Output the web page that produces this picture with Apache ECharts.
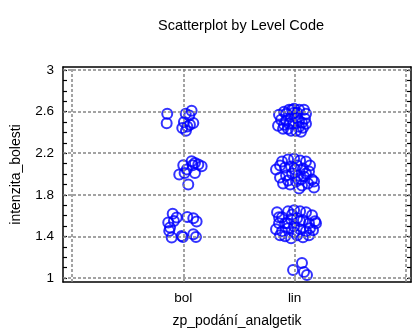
<!DOCTYPE html>
<html>
<head>
<meta charset="utf-8">
<script src="https://cdn.jsdelivr.net/npm/echarts@6/dist/echarts.min.js"></script>
<style>
  html, body { margin: 0; padding: 0; background: #fff; }
  #chart { width: 416px; height: 333px; }
</style>
</head>
<body>
<div id="chart"></div>
<script>
// Level codes on the x axis (position 1 = bol, 2 = lin)
const categories = ['bol', 'lin'];

// Jittered observations [x, intenzita_bolesti] for level "bol"
const bolPoints = [
  [0.856, 2.579], [0.851, 2.489], [1.022, 2.579], [1.075, 2.608], [1.054, 2.563],
  [1.090, 2.490], [1.060, 2.474], [0.991, 2.442], [1.024, 2.416], [1.036, 2.457],
  [1.006, 2.500],
  [1.075, 2.122], [1.105, 2.107], [1.135, 2.091], [1.165, 2.075], [1.000, 2.084],
  [1.084, 2.084], [1.031, 2.043], [0.964, 1.995], [1.012, 2.011], [1.105, 2.011],
  [1.045, 1.900],
  [0.905, 1.619], [0.941, 1.581], [1.036, 1.587], [1.090, 1.574], [1.120, 1.543],
  [0.865, 1.533], [0.916, 1.548], [0.881, 1.485], [0.874, 1.453], [0.896, 1.389],
  [0.986, 1.405], [0.997, 1.395], [1.090, 1.421], [1.114, 1.395]
];

// Jittered observations [x, intenzita_bolesti] for level "lin"
const linPoints = [
  [1.860, 2.569], [1.851, 2.464], [1.905, 2.598], [1.950, 2.617], [1.995, 2.627],
  [2.040, 2.617], [2.084, 2.617], [2.102, 2.579], [2.093, 2.531], [2.066, 2.493],
  [2.022, 2.541], [1.968, 2.550], [1.923, 2.512], [1.896, 2.435], [1.941, 2.435],
  [1.986, 2.483], [2.013, 2.416], [2.057, 2.407], [2.040, 2.455], [1.968, 2.416],
  [1.923, 2.579], [1.995, 2.589], [2.075, 2.445], [1.878, 2.522], [2.022, 2.589],
  [1.950, 2.483], [2.040, 2.512], [1.905, 2.474], [2.102, 2.483], [1.977, 2.617],
  [1.833, 2.043], [1.887, 2.120], [1.941, 2.139], [1.995, 2.148], [2.049, 2.129],
  [2.102, 2.120], [2.138, 2.081], [1.914, 2.062], [1.968, 2.072], [2.022, 2.081],
  [2.075, 2.053], [2.129, 2.024], [1.869, 1.967], [1.923, 1.986], [1.977, 2.005],
  [2.031, 1.986], [2.084, 1.976], [2.156, 1.947], [1.896, 1.909], [1.959, 1.900],
  [2.013, 1.928], [2.066, 1.890], [2.120, 1.909], [2.174, 1.871], [2.040, 1.861],
  [1.941, 1.938], [2.102, 2.005], [2.004, 2.043], [1.869, 2.081], [2.174, 1.928],
  [2.058, 1.947],
  [1.842, 1.632], [1.887, 1.584], [1.941, 1.641], [1.995, 1.651], [2.049, 1.641],
  [2.102, 1.632], [2.156, 1.603], [2.183, 1.545], [1.860, 1.526], [1.914, 1.526],
  [1.968, 1.565], [2.022, 1.574], [2.075, 1.555], [2.129, 1.526], [1.833, 1.469],
  [1.887, 1.450], [1.941, 1.478], [1.995, 1.498], [2.049, 1.469], [2.102, 1.450],
  [2.165, 1.459], [1.914, 1.402], [1.968, 1.383], [2.022, 1.411], [2.075, 1.392],
  [2.129, 1.411], [1.869, 1.411], [1.977, 1.612], [2.049, 1.545], [1.860, 1.584],
  [1.995, 1.440], [2.138, 1.478], [2.192, 1.526], [1.932, 1.526],
  [1.986, 1.077], [2.066, 1.144], [2.084, 1.057], [2.111, 1.029]
];

// Tick values
const yMajorTicks = [1, 1.4, 1.8, 2.2, 2.6, 3];
const yAllTicks = [1, 1.1, 1.2, 1.3, 1.4, 1.5, 1.6, 1.7, 1.8, 1.9, 2.0,
                   2.1, 2.2, 2.3, 2.4, 2.5, 2.6, 2.7, 2.8, 2.9, 3];
const xGridValues = [0, 1, 2, 3];
const xLabelValues = [1, 2];

const X_MIN = -0.08, X_MAX = 3.045;
const Y_MIN = 0.962, Y_MAX = 3.029;

const FONT = '"Liberation Sans", Arial, sans-serif';
const gridLine = { color: '#858585', width: 1.5, type: [3, 2] };
const frameLine = { color: '#000', width: 1.5 };
const tickStyle = { show: true, inside: true, length: 4, customValues: yAllTicks,
                    lineStyle: { color: '#000', width: 1.2 } };

const chart = echarts.init(document.getElementById('chart'), null, { renderer: 'canvas' });

chart.setOption({
  animation: false,
  title: {
    text: 'Scatterplot by Level Code',
    left: 236, top: 13, textAlign: 'center',
    textStyle: { fontFamily: FONT, fontSize: 14.5, fontWeight: 'normal', color: '#000' }
  },
  grid: { left: 63, right: 5, top: 67, bottom: 50, containLabel: false },
  xAxis: [
    {
      type: 'value', min: X_MIN, max: X_MAX, position: 'bottom',
      name: 'zp_podání_analgetik', nameLocation: 'middle', nameGap: 32,
      nameTextStyle: { fontFamily: FONT, fontSize: 14, color: '#000' },
      axisLine: { show: true, onZero: false, lineStyle: frameLine },
      axisTick: { show: false },
      axisLabel: {
        customValues: xLabelValues, margin: 9,
        formatter: (v) => categories[Math.round(v) - 1] || '',
        fontFamily: FONT, fontSize: 13.5, color: '#000'
      },
      splitLine: { show: false }
    },
    {
      type: 'value', min: X_MIN, max: X_MAX, position: 'top',
      axisLine: { show: true, onZero: false, lineStyle: frameLine },
      axisTick: { show: false }, axisLabel: { show: false }, splitLine: { show: false }
    }
  ],
  yAxis: [
    {
      type: 'value', min: Y_MIN, max: Y_MAX, position: 'left',
      name: 'intenzita_bolesti', nameLocation: 'middle', nameGap: 40,
      nameTextStyle: { fontFamily: FONT, fontSize: 14, color: '#000' },
      axisLine: { show: true, onZero: false, lineStyle: frameLine },
      axisTick: tickStyle,
      axisLabel: { show: true, customValues: yMajorTicks, margin: 9,
                   formatter: (v) => String(Math.round(v * 10) / 10),
                   fontFamily: FONT, fontSize: 13.5, color: '#000' },
      splitLine: { show: false }
    },
    {
      type: 'value', min: Y_MIN, max: Y_MAX, position: 'right',
      axisLine: { show: true, onZero: false, lineStyle: frameLine },
      axisTick: tickStyle,
      axisLabel: { show: false }, splitLine: { show: false }
    }
  ],
  series: [
    {
      // dotted reference grid
      type: 'scatter', data: [], silent: true,
      markLine: {
        silent: true, symbol: 'none', animation: false,
        label: { show: false },
        lineStyle: gridLine,
        data: xGridValues.map(v => ({ xAxis: v }))
          .concat(yMajorTicks.map(v => ({ yAxis: v })))
      }
    },
    {
      name: 'bol', type: 'scatter', data: bolPoints,
      symbol: 'circle', symbolSize: 10,
      itemStyle: { color: 'rgba(0,0,0,0)', borderColor: '#0000ff', borderWidth: 2 }
    },
    {
      name: 'lin', type: 'scatter', data: linPoints,
      symbol: 'circle', symbolSize: 10,
      itemStyle: { color: 'rgba(0,0,0,0)', borderColor: '#0000ff', borderWidth: 2 }
    }
  ]
});
</script>
</body>
</html>
